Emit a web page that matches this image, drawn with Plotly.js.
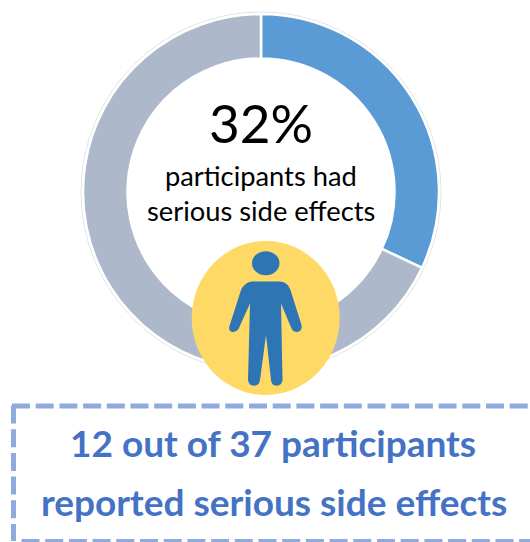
<!DOCTYPE html>
<html>
<head>
<meta charset="utf-8">
<script src="https://cdn.plot.ly/plotly-3.0.1.min.js"></script>
<style>html,body{margin:0;padding:0;background:#fff}#chart{width:530px;height:542px}</style>
</head>
<body>
<div id="chart"></div>
<script>
var categories = ["Serious side effects", "No serious side effects"];
var percentages = [32, 68];
var sliceColors = ["#5b9bd5", "#adb9ca"];
var headline = "32%";
var subLines = ["participants had", "serious side effects"];
var boxLines = ["12 out of 37 participants", "reported serious side effects"];

var W = 530, H = 542;
var cx = 261, cy = 192, R = 178;

// Person icon outline, in page pixels
var body = "M251.5,281.5 L280,281.5 Q288,282 290.5,290 L301.5,325 Q302.5,331.5 297,332 Q293,332 291.5,328.5 L281,303.5 L282.5,380 Q282,385.5 276.5,385.7 Q271.5,385.5 271,380 L266,335 L260,380 Q259.5,385.5 254,385.7 Q248.5,385.5 248,380 L250,303.5 L238.5,329 Q236,332.5 232.5,332 Q228,331 229.5,326 L241,290 Q244,283 251.5,281.5 Z";

var dashed = {color:"#8faadc", width:5, dash:"18px,5.7px"};
var ring = {color:"#e3e3e3", width:1};
var shapes = [
  {type:"circle", x0:cx-R-2, x1:cx+R+2, y0:cy-R-2, y1:cy+R+2, line:ring, layer:"below"},
  {type:"circle", x0:cx-134.5, x1:cx+134.5, y0:cy-134.5, y1:cy+134.5, line:ring, layer:"below"},
  {type:"circle", x0:191.7, x1:339.7, y0:241, y1:395, fillcolor:"#ffd966", line:{width:0}},
  {type:"circle", x0:252, x1:279.5, y0:251.3, y1:275.3, fillcolor:"#2e75b6", line:{width:0}},
  {type:"path", path:body, fillcolor:"#2e75b6", line:{width:0}},
  {type:"path", path:"M13.5,405.5 L13.5,541", line:dashed},
  {type:"path", path:"M12,406 L534,406", line:dashed},
  {type:"path", path:"M21.5,541.5 L534,541.5", line:dashed}
];

function label(text, x, y, size, color, bold) {
  return {x:x, y:y, xref:"x", yref:"y", text:bold ? "<b>"+text+"</b>" : text, showarrow:false,
          xanchor:"center", yanchor:"middle", font:{family:"Lato, Carlito, sans-serif", size:size, color:color}};
}
var annotations = [
  label(headline, cx, 122, 53, "#000000", false),
  label(subLines[0], cx, 175, 27.3, "#000000", false),
  label(subLines[1], cx, 210, 27.3, "#000000", false),
  label(boxLines[0], 273, 442, 37, "#4472c4", true),
  label(boxLines[1], 274, 501, 37, "#4472c4", true)
];

var traces = [
  {type:"scatter", x:[], y:[], hoverinfo:"skip", showlegend:false},
  {type:"pie", labels:categories, values:percentages, hole:0.75, sort:false, direction:"clockwise", rotation:0,
   textinfo:"none", hoverinfo:"label+value+percent",
   marker:{colors:sliceColors, line:{color:"#ffffff", width:2.5}},
   domain:{x:[(cx-R)/W,(cx+R)/W], y:[1-(cy+R)/H,1-(cy-R)/H]}}
];
var layout = {
  width:W, height:H, margin:{l:0,r:0,t:0,b:0}, showlegend:false,
  paper_bgcolor:"#ffffff", plot_bgcolor:"rgba(0,0,0,0)",
  xaxis:{range:[0,W], visible:false, fixedrange:true},
  yaxis:{range:[H,0], visible:false, fixedrange:true},
  shapes:shapes.map(function(s){return Object.assign({xref:"x",yref:"y"},s);}),
  annotations:annotations
};
Plotly.newPlot("chart", traces, layout, {displayModeBar:false, staticPlot:true});
</script>
</body>
</html>
